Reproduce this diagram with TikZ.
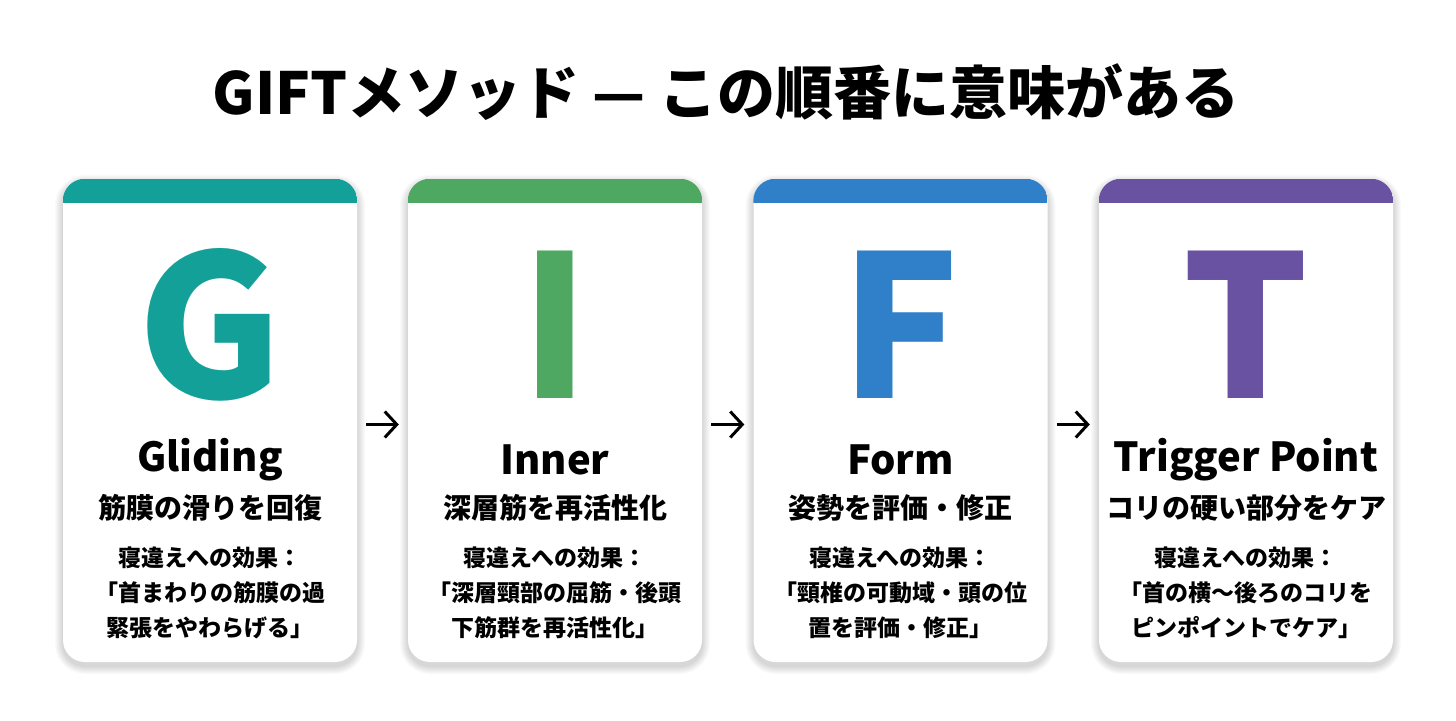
\documentclass[tikz,border=0pt]{standalone}
\usepackage{fontspec}
\setmainfont{Noto Sans CJK JP}
\usepackage{tikz}
\usetikzlibrary{calc,positioning,arrows.meta}
\definecolor{gteal}{HTML}{12A098}
\definecolor{igreen}{HTML}{4EA862}
\definecolor{fblue}{HTML}{2F80C8}
\definecolor{tpurple}{HTML}{6A52A2}

\tikzset{
  card/.style={draw=none, fill=white, rounded corners=22pt, minimum width=294pt, minimum height=483pt},
  bigletter/.style={font=\fontsize{198}{198}\selectfont\bfseries},
  word/.style={font=\fontsize{40}{40}\selectfont\bfseries},
  subword/.style={font=\fontsize{28}{30}\selectfont\bfseries},
  effect/.style={font=\fontsize{23}{35}\selectfont\bfseries, align=center},
  flow/.style={-{Straight Barb[length=12pt,width=26pt,line width=3pt]}, line width=3pt,
    shorten <=9pt, shorten >=9pt}
}

\begin{document}
\begin{tikzpicture}[x=1pt, y=-1pt]
  \useasboundingbox[fill=white] (0,0) rectangle (1456,720);
  \node (title) at (726,92) {\fontsize{58}{58}\selectfont\bfseries GIFTメソッド — この順番に意味がある};
  \foreach \n/\x/\col/\letter/\w/\sub/\la/\lb/\lc in {
      g/210/gteal/G/Gliding/筋膜の滑りを回復/寝違えへの効果：/「首まわりの筋膜の過/緊張をやわらげる」,
      i/555/igreen/I/Inner/深層筋を再活性化/寝違えへの効果：/「深層頸部の屈筋・後頭/下筋群を再活性化」,
      f/900.5/fblue/F/Form/姿勢を評価・修正/寝違えへの効果：/「頸椎の可動域・頭の位/置を評価・修正」,
      t/1246/tpurple/T/Trigger Point/コリの硬い部分をケア/寝違えへの効果：/「首の横〜後ろのコリを/ピンポイントでケア」} {
    % soft shadow
    \foreach \s in {1,...,8}
      \fill[black, opacity=0.018, rounded corners=22pt+\s pt]
        (\x-147-\s, 179+4-\s) rectangle (\x+147+\s, 662+4+\s);
    \node[card] (\n) at (\x,420.5) {};
    \begin{scope}
      \clip[rounded corners=22pt] (\n.north west) rectangle (\n.south east);
      \fill[\col] (\n.north west) rectangle ++(294,24);
    \end{scope}
    \node[bigletter, text=\col] (\n-letter) at (\x,325) {\letter};
    \node[word] (\n-word) at (\x,460) {\w};
    \node[subword] (\n-sub) at (\x,508) {\sub};
    \node[effect] (\n-effect) at (\x,593) {\la\\\lb\\\lc};
  }
  \foreach \a/\b in {g/i, i/f, f/t}
    \draw[flow] ([yshift=-4pt]\a.east) -- ([yshift=-4pt]\b.west);
\end{tikzpicture}
\end{document}
